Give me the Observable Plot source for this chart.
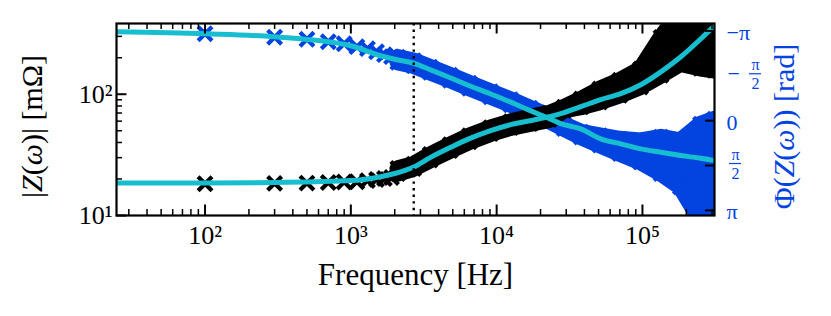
<!DOCTYPE html>
<html><head><meta charset="utf-8">
<script src="https://cdn.jsdelivr.net/npm/d3@7"></script>
<script src="https://cdn.jsdelivr.net/npm/@observablehq/plot@0.6"></script>
<style>html,body{margin:0;padding:0;background:#fff}#chart{width:831px;height:316px}</style>
</head><body><div id="chart"></div>
<script>
// ---- data ----
const sparseFreq  = [100, 300, 500, 700, 900, 1100, 1300, 1500, 1700, 1900];
const sparseMag   = [18.3, 18.4, 18.5, 18.7, 18.9, 19.0, 19.4, 19.8, 20.2, 20.6];
const sparsePhase = [-3.04, -2.92, -2.85, -2.76, -2.69, -2.59, -2.52, -2.41, -2.31, -2.24];

const denseFreq   = [2100, 2700, 3500, 4800, 6500, 9100, 12500, 17000, 23000, 29000, 38000, 51000, 70000, 97000, 134000, 182000, 250000, 312000];
const magUpper    = [24.4, 26.5, 31.8, 38.4, 45.5, 53.0, 59.4, 64.7, 69.8, 78.2, 91.5, 110.6, 130.4, 161.5, 294.5, 486, 486, 486];
const magLower    = [22.2, 24.4, 28.6, 34.3, 40.6, 47.3, 53.0, 57.2, 61.7, 73.8, 78.6, 86.4, 98.1, 114.8, 143.3, 178.9, 163.7, 157.6];
const phaseTop    = [-2.219, -2.097, -1.870, -1.590, -1.311, -1.014, -0.734, -0.437, -0.158, 0.140, 0.402, 0.524, 0.646, 0.699, 0.576, 0.699, 0.122, -0.053];
const phaseBottom = [-2.044, -1.922, -1.695, -1.415, -1.136, -0.839, -0.559, -0.262, 0.017, 0.279, 0.576, 0.856, 1.153, 1.450, 1.852, 2.323, 3.494, 3.494];

const fitFreq  = [24.7, 100, 300, 1000, 1600, 2000, 2700, 3500, 4800, 6500, 9100, 12500, 17000, 23000, 27500, 37800, 51700, 71000, 97400, 133700, 183400, 251500, 312000];
const fitMag   = [18.5, 18.5, 18.7, 19.4, 20.9, 22.2, 25.1, 30.0, 36.3, 43.0, 50.1, 56.1, 60.5, 65.3, 69.1, 78.9, 90.2, 101, 119.7, 153, 203.6, 286.6, 366];
const fitPhase = [-3.110, -3.040, -2.935, -2.621, -2.271, -2.149, -2.009, -1.782, -1.503, -1.223, -0.933, -0.647, -0.350, -0.070, 0.105, 0.290, 0.639, 0.814, 0.989, 1.107, 1.223, 1.317, 1.397];

const markerFreq = [2700];

const xMajor = [100, 1000, 10000, 100000];
const xTickLabels = ["10²", "10³", "10⁴", "10⁵"];
const xMinor = [30, 40, 50, 60, 70, 80, 90, 200, 300, 400, 500, 600, 700, 800, 900,
  2000, 3000, 4000, 5000, 6000, 7000, 8000, 9000, 20000, 30000, 40000, 50000, 60000, 70000, 80000, 90000, 200000, 300000];
const yMajor = [10, 100];
const yTickLabels = ["10¹", "10²"];
const yMinor = [20, 30, 40, 50, 60, 70, 80, 90, 200, 300];
const phaseTicks = [-Math.PI, -Math.PI / 2, 0, Math.PI / 2, Math.PI];
const phaseTickLabels = ["−π", "−π/2", "0", "π/2", "π"];

const xLabel = "Frequency [Hz]";
const yLabel = "|Z(ω)| [mΩ]";
const phaseLabel = "Φ(Z(ω)) [rad]";

// ---- layout ----
const W = 831, H = 316;
const mL = 116, mR = 117, mT = 23, mB = 101;
const plotW = W - mL - mR, plotH = H - mT - mB;
const xDomain = [24.7, 312000];
const yDomain = [10, 383];
const phaseDomain = [3.32, -3.40]; // bottom -> top
const lgLo = Math.log10(yDomain[0]), lgHi = Math.log10(yDomain[1]);
const toY = p => 10 ** (lgLo + (p - phaseDomain[0]) / (phaseDomain[1] - phaseDomain[0]) * (lgHi - lgLo));

const sparse = sparseFreq.map((f, i) => ({f, mag: sparseMag[i], ph: toY(sparsePhase[i])}));
const dense = denseFreq.map((f, i) => ({f, mHi: magUpper[i], mLo: magLower[i], pTop: toY(phaseTop[i]), pBot: toY(phaseBottom[i])}));
const fit = fitFreq.map((f, i) => ({f, mag: fitMag[i], ph: toY(fitPhase[i])}));
const phaseTickY = phaseTicks.map(toY);

// right-axis labels: whole labels and stacked fractions
const phaseLab = phaseTickLabels.map((s, i) => {
  const m = s.match(/^(−?)(.+)\/(.+)$/);
  return m ? {y: phaseTickY[i], sign: m[1], num: m[2], den: m[3]} : {y: phaseTickY[i], whole: s};
});
const wholeLab = phaseLab.filter(d => d.whole !== undefined);
const fracNeg = phaseLab.filter(d => d.num !== undefined && d.sign);
const fracPos = phaseLab.filter(d => d.num !== undefined && !d.sign);

const blue = "#0343df", cyan = "#17becf", black = "#000000";
const serif = "Liberation Serif";
const mr = 6.4, msw = 4.2, bandW = 16.5;

function cloud(k1, k2, color) {
  return [
    Plot.areaY(dense, {x: "f", y1: k1, y2: k2, fill: color, clip: true}),
    Plot.line(dense, {x: "f", y: k1, stroke: color, strokeWidth: bandW, clip: true}),
    Plot.line(dense, {x: "f", y: k2, stroke: color, strokeWidth: bandW, clip: true}),
    Plot.dot(dense, {x: "f", y: k1, symbol: "times", r: mr, stroke: color, strokeWidth: msw, clip: true}),
    Plot.dot(dense, {x: "f", y: k2, symbol: "times", r: mr, stroke: color, strokeWidth: msw, clip: true})
  ];
}

function fracMarks(data, center) {
  return [
    Plot.text(data, {y: "y", text: "num", frameAnchor: "right", dx: center, dy: -11, fontSize: 16, fontFamily: serif, fill: blue, textAnchor: "middle"}),
    Plot.text(data, {y: "y", text: "den", frameAnchor: "right", dx: center, dy: 8, fontSize: 16, fontFamily: serif, fill: blue, textAnchor: "middle"}),
    Plot.tickY(data, {y: "y", insetLeft: plotW - 12, dx: center + 6, dy: -2, stroke: blue, strokeWidth: 1.2})
  ];
}

const chart = Plot.plot({
  width: W, height: H,
  marginLeft: mL, marginRight: mR, marginTop: mT, marginBottom: mB,
  x: {type: "log", domain: xDomain},
  y: {type: "log", domain: yDomain},
  style: {fontFamily: serif, background: "#fff"},
  marks: [
    cloud("pTop", "pBot", blue),
    Plot.dot(sparse, {x: "f", y: "ph", symbol: "times", r: mr, stroke: blue, strokeWidth: msw, clip: true}),
    cloud("mHi", "mLo", black),
    Plot.dot(sparse, {x: "f", y: "mag", symbol: "times", r: mr, stroke: black, strokeWidth: msw, clip: true}),
    Plot.line(fit, {x: "f", y: "ph", stroke: cyan, strokeWidth: 5, curve: "monotone-x", clip: true}),
    Plot.line(fit, {x: "f", y: "mag", stroke: cyan, strokeWidth: 5, curve: "monotone-x", clip: true}),
    Plot.ruleX(markerFreq, {x: d => d, stroke: black, strokeWidth: 2.4, strokeDasharray: "2.4,4.2"}),
    // inward ticks
    Plot.tickX(xMajor, {x: d => d, insetTop: plotH - 10.5, strokeWidth: 2}),
    Plot.tickX(xMajor, {x: d => d, insetBottom: plotH - 10.5, strokeWidth: 2}),
    Plot.tickX(xMinor, {x: d => d, insetTop: plotH - 6, strokeWidth: 1.5}),
    Plot.tickX(xMinor, {x: d => d, insetBottom: plotH - 6, strokeWidth: 1.5}),
    Plot.tickY(yMajor, {y: d => d, insetRight: plotW - 10.5, strokeWidth: 2}),
    Plot.tickY(yMinor, {y: d => d, insetRight: plotW - 6, strokeWidth: 1.5}),
    Plot.tickY(phaseTickY, {y: d => d, insetLeft: plotW - 9, strokeWidth: 2}),
    Plot.frame({stroke: black, strokeWidth: 2.2}),
    // tick labels
    Plot.axisX(xMajor, {anchor: "bottom", tickSize: 0, tickPadding: 10, label: null,
      tickFormat: d => xTickLabels[xMajor.indexOf(d)], fontSize: 26, fontFamily: serif}),
    Plot.axisY(yMajor, {anchor: "left", tickSize: 0, tickPadding: 4, label: null,
      tickFormat: d => yTickLabels[yMajor.indexOf(d)], fontSize: 26, fontFamily: serif}),
    Plot.text(wholeLab, {y: "y", text: "whole", frameAnchor: "right", dx: 12, dy: 2, textAnchor: "start",
      fontSize: 22, fontFamily: serif, fill: blue}),
    Plot.text(fracNeg, {y: "y", text: "sign", frameAnchor: "right", dx: 13, dy: -2, textAnchor: "start",
      fontSize: 22, fontFamily: serif, fill: blue}),
    fracMarks(fracNeg, 41),
    fracMarks(fracPos, 21),
    // axis titles
    Plot.text([xLabel], {text: d => d, frameAnchor: "bottom", dy: 60, fontSize: 31, fontFamily: serif,
      textAnchor: "middle", lineAnchor: "middle", fill: black}),
    Plot.text([yLabel], {text: d => d, frameAnchor: "left", dx: -84, dy: 7, rotate: -90, fontSize: 30, fontFamily: serif,
      textAnchor: "middle", lineAnchor: "middle", fill: black}),
    Plot.text([phaseLabel], {text: d => d, frameAnchor: "right", dx: 70, dy: 7, rotate: -90, fontSize: 30, fontFamily: serif,
      textAnchor: "middle", lineAnchor: "middle", fill: blue})
  ]
});
document.getElementById("chart").appendChild(chart);

// italic math letters in axis titles
function richify(node, parts) {
  while (node.firstChild) node.removeChild(node.firstChild);
  for (const [s, it] of parts) {
    const ts = document.createElementNS("http://www.w3.org/2000/svg", "tspan");
    ts.textContent = s;
    if (it) ts.setAttribute("font-style", "italic");
    node.appendChild(ts);
  }
}
d3.select(chart).selectAll("text").each(function () {
  const t = this.textContent;
  if (t === yLabel) richify(this, [["|", 0], ["Z", 1], ["(", 0], ["ω", 1], [")| [mΩ]", 0]]);
  else if (t === phaseLabel) richify(this, [["Φ(", 0], ["Z", 1], ["(", 0], ["ω", 1], [")) [rad]", 0]]);
});
</script>
</body></html>
